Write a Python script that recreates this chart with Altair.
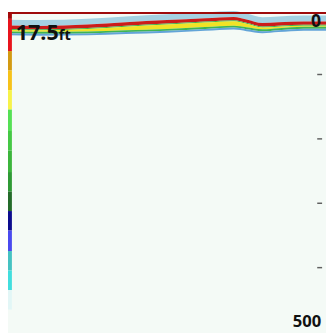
import altair as alt
import pandas as pd

# --- data ---
# sonar pings across the screen and the depth (units) of the top of the surface echo
ping = [0, 10, 25, 37, 50, 62, 71, 75, 80, 85, 93, 100]
surface = [24.0, 24.5, 22.5, 19.0, 15.5, 12.5, 10.5, 14.5, 20.0, 19.0, 17.5, 17.5]
yellow_thick = [1.5, 1.5, 2.5, 3.5, 4.5, 4.5, 4.5, 3.5, 2.0, 1.5, 1.0, 1.0]

# colour scale bar on the left (depth units of each step)
bar_top = [3, 13.6, 63.6, 93.9, 124.2, 154.5, 187.8, 218.1, 251.5, 281.8, 312.1, 342.4, 374.2, 404.5, 434.8]
bar_bot = [13.6, 63.6, 93.9, 124.2, 154.5, 187.8, 218.1, 251.5, 281.8, 312.1, 342.4, 374.2, 404.5, 434.8, 465.1]
bar_col = ["#a30a0a", "#e8141c", "#d39a12", "#f6c21a", "#f7f24a", "#55e055", "#45c845",
           "#3cb53c", "#2f9a35", "#246b2a", "#0c0c8e", "#4a4aef", "#45c2c2", "#42dede", "#e2f6f6"]

depth_ticks = [100, 200, 300, 400]
depth_labels = ["0", "500"]
depth_label_pos = [0, 500]
reading_value = "17.5"
reading_unit = "ft"

PX = 1 / 0.66  # depth units per pixel

W, H = 326, 330
xs = alt.Scale(domain=[0, 100], nice=False, zero=False)
ys = alt.Scale(domain=[3, 503], reverse=True, nice=False, zero=False)

# build echo layers
layers = [
    ("noise", "#9fcfe0", -6, 0),
    ("red", "#c8100e", 0, 3.5),
    ("green1", "#3cb043", 3.5, 4.5),
    ("yellow", "#efe21a", 4.5, None),
    ("green2", "#35b04a", None, 2),
    ("blue", "#5a9fd6", None, 2),
]
rows = []
for name, col, a, b in layers:
    for p, s, yt in zip(ping, surface, yellow_thick):
        if name in ("noise", "red", "green1"):
            t0, t1 = a, b
        elif name == "yellow":
            t0, t1 = 4.5, 4.5 + yt
        elif name == "green2":
            t0, t1 = 4.5 + yt, 6.5 + yt
        else:
            t0, t1 = 6.5 + yt, 8.5 + yt
        rows.append({"layer": name, "ping": p, "d0": s + t0 * PX, "d1": s + t1 * PX})
echo = pd.DataFrame(rows)
order = [l[0] for l in layers]
colors = [l[1] for l in layers]

echo_chart = alt.Chart(echo).mark_area(interpolate="monotone", opacity=0.95).encode(
    x=alt.X("ping:Q", scale=xs, axis=None),
    y=alt.Y("d0:Q", scale=ys, axis=None, stack=None),
    y2="d1:Q",
    color=alt.Color("layer:N", scale=alt.Scale(domain=order, range=colors), legend=None),
)

frame = alt.Chart(pd.DataFrame({"a": [0]})).mark_rect(color="#9e0b0b").encode(
    x=alt.value(0), x2=alt.value(W), y=alt.value(0), y2=alt.value(2)
)

bar = alt.Chart(pd.DataFrame({"t": bar_top, "b": bar_bot, "c": bar_col})).mark_rect().encode(
    x=alt.value(0), x2=alt.value(4),
    y=alt.Y("t:Q", scale=ys, axis=None), y2="b:Q",
    color=alt.Color("c:N", scale=None, legend=None),
)

ticks = alt.Chart(pd.DataFrame({"d": depth_ticks})).mark_rule(color="#606060", strokeWidth=1.5).encode(
    x=alt.value(317), x2=alt.value(322), y=alt.Y("d:Q", scale=ys, axis=None)
)

lab_df = pd.DataFrame({"d": depth_label_pos, "t": depth_labels})
lab0 = alt.Chart(lab_df.iloc[[0]]).mark_text(
    font="Open Sans", fontWeight="bold", fontSize=18, align="right", baseline="middle", dy=12, color="#111"
).encode(x=alt.value(321), y=alt.Y("d:Q", scale=ys, axis=None), text="t:N")
lab500 = alt.Chart(lab_df.iloc[[1]]).mark_text(
    font="Open Sans", fontWeight="bold", fontSize=17, align="right", baseline="middle", dy=-10, color="#111"
).encode(x=alt.value(321), y=alt.Y("d:Q", scale=ys, axis=None), text="t:N")

reading = alt.Chart(pd.DataFrame({"t": [reading_value]})).mark_text(
    font="Open Sans", fontWeight="bold", fontSize=22, align="left", baseline="alphabetic", color="#111"
).encode(x=alt.value(8), y=alt.value(29), text="t:N")
unit = alt.Chart(pd.DataFrame({"t": [reading_unit]})).mark_text(
    font="Open Sans", fontWeight="bold", fontSize=15, align="left", baseline="alphabetic", color="#111"
).encode(x=alt.value(52), y=alt.value(29), text="t:N")

chart = alt.layer(echo_chart, frame, bar, ticks, lab0, lab500, reading, unit).properties(
    width=W, height=H, padding=0, autosize=alt.AutoSizeParams(type="none")
).configure_view(fill="#f4faf6", stroke=None)

chart.save("out.html", embed_options={"renderer": "svg", "actions": False})
